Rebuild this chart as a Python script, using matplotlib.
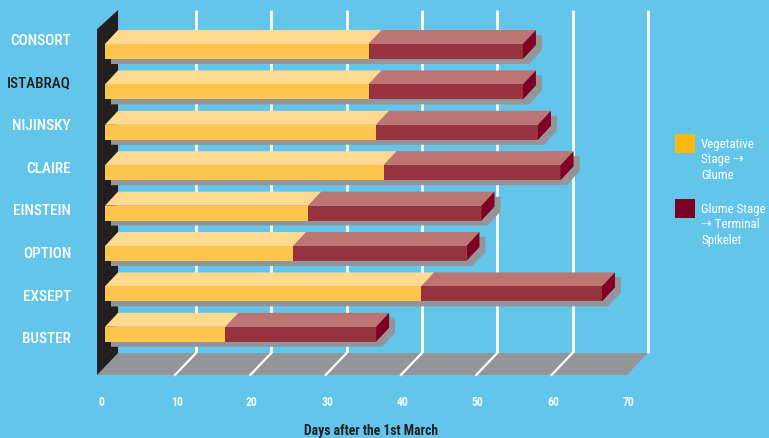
import matplotlib
matplotlib.use("Agg")
import matplotlib.pyplot as plt
from matplotlib.patches import Polygon
from matplotlib import font_manager

varieties = ["CONSORT", "ISTABRAQ", "NIJINSKY", "CLAIRE", "EINSTEIN", "OPTION", "EXSEPT", "BUSTER"]
veg_to_glume = [35, 35, 36, 37, 27, 25, 42, 16]
glume_to_ts = [20.5, 20.5, 21.5, 23.5, 23, 23, 24, 20]
ticks = [0, 10, 20, 30, 40, 50, 60, 70]
legend_labels = ["Vegetative\nStage \u21e2\nGlume", "Glume Stage\n\u21e2 Terminal\nSpikelet"]

names = {f.name for f in font_manager.fontManager.ttflist}
FONT = "DejaVu Sans"
for cand in ["Roboto Condensed", "Liberation Sans Narrow", "Open Sans Condensed", "Roboto"]:
    if cand in names:
        FONT = cand
        break

bg = "#63c5ea"
yel_front, yel_top = "#fec54d", "#fed98f"
red_front, red_top, red_side = "#97323f", "#bd7574", "#800024"
grey = "#939598"
wall = "#231f20"

W, H = 769, 438
K = 7.53          # px per day
ROW = 40.4        # px per row
X0, Y0 = 105, 51.5

fig = plt.figure(figsize=(W / 100, H / 100), dpi=100, facecolor=bg)
ax = fig.add_axes([0, 0, 1, 1])
ax.set_facecolor(bg)
ax.set_xlim(-X0 / K, (W - X0) / K)
ax.set_ylim((H - Y0) / ROW, -Y0 / ROW)
ax.axis("off")

# bar depth and floor depth in data units
bdx, bdy = 13 / K, -14 / ROW
fdx, fdy = 21 / K, -22 / ROW
f0 = -5.3 / K            # floor front-plane offset
floor_front = (375 - Y0) / ROW
floor_back = floor_front + fdy
top_back = (10 - Y0) / ROW
half = 7.5 / ROW
sx, sy = 6 / K, 5 / ROW

# back wall gridlines
for t in ticks[1:]:
    ax.plot([f0 + fdx + t] * 2, [floor_back, top_back], color="white", lw=2, zorder=1,
            solid_capstyle="butt")

# floor
x_left = f0 - 0.35
ax.add_patch(Polygon([(x_left, floor_front), (x_left + fdx, floor_back),
                      (f0 + fdx + 70, floor_back), (f0 + 70, floor_front)],
                     closed=True, fc=grey, ec="none", zorder=2))
for t in ticks[1:-1]:
    ax.plot([f0 + t, f0 + fdx + t], [floor_front, floor_back], color="white", lw=1.6, zorder=3)

# left wall
ax.add_patch(Polygon([(x_left, floor_front), (x_left + fdx, floor_back),
                      (x_left + fdx, top_back), (x_left, top_back - fdy * 0.87)],
                     closed=True, fc=wall, ec="none", zorder=3))


def box(x0, x1, yc, top_c, front_c, side_c, z, side=True):
    ax.add_patch(Polygon([(x0, yc - half), (x0 + bdx, yc - half + bdy),
                          (x1 + bdx, yc - half + bdy), (x1, yc - half)],
                         closed=True, fc=top_c, ec="none", zorder=z))
    ax.add_patch(Polygon([(x0, yc - half), (x1, yc - half), (x1, yc + half), (x0, yc + half)],
                         closed=True, fc=front_c, ec="none", zorder=z))
    if side:
        ax.add_patch(Polygon([(x1, yc - half), (x1 + bdx, yc - half + bdy),
                              (x1 + bdx, yc + half + bdy), (x1, yc + half)],
                             closed=True, fc=side_c, ec="none", zorder=z))


for i, (a, b) in enumerate(zip(veg_to_glume, glume_to_ts)):
    end = a + b
    # shadow
    ax.add_patch(Polygon([(sx, i + sy - half), (sx + bdx, i + sy - half + bdy),
                          (end + sx + bdx, i + sy - half + bdy), (end + sx + bdx, i + sy + half + bdy),
                          (end + sx, i + sy + half), (sx, i + sy + half)],
                         closed=True, fc=grey, ec="none", zorder=4))
    box(0, a, i, yel_top, yel_front, yel_front, 5, side=False)
    box(a, end, i, red_top, red_front, red_side, 5)

# category labels
for i, name in enumerate(varieties):
    y = (40.7 + 42.66 * i - Y0) / ROW
    ax.text(71 / K - X0 / K, y, name, ha="right", va="center", fontsize=11,
            fontfamily=FONT, fontweight="medium", color=wall if name == "ISTABRAQ" else "white")

# tick labels
for t in ticks:
    ax.text(f0 + t + 0.2, (403 - Y0) / ROW, str(t), ha="center", va="center", fontsize=8.5,
            fontfamily=FONT, fontweight="bold", color="#eef8fc")

ax.text((371 - X0) / K, (431 - Y0) / ROW, "Days after the 1st March", ha="center", va="center",
        fontsize=9.8, fontweight="bold", fontfamily=FONT, color=wall)

# legend
for (y_sq, col, lab) in [(134, "#fdb813", legend_labels[0]), (199, "#7a0026", legend_labels[1])]:
    ax.add_patch(Polygon([((675 - X0) / K, (y_sq - Y0) / ROW), ((695 - X0) / K, (y_sq - Y0) / ROW),
                          ((695 - X0) / K, (y_sq + 19 - Y0) / ROW), ((675 - X0) / K, (y_sq + 19 - Y0) / ROW)],
                         closed=True, fc=col, ec="none", zorder=6))
    ax.text((701 - X0) / K, (y_sq + 4 - Y0) / ROW, lab, ha="left", va="top", fontsize=9.3,
            fontfamily=[FONT, "DejaVu Sans"], color="white", linespacing=1.25)

fig.savefig("out.png", dpi=100, facecolor=bg)
